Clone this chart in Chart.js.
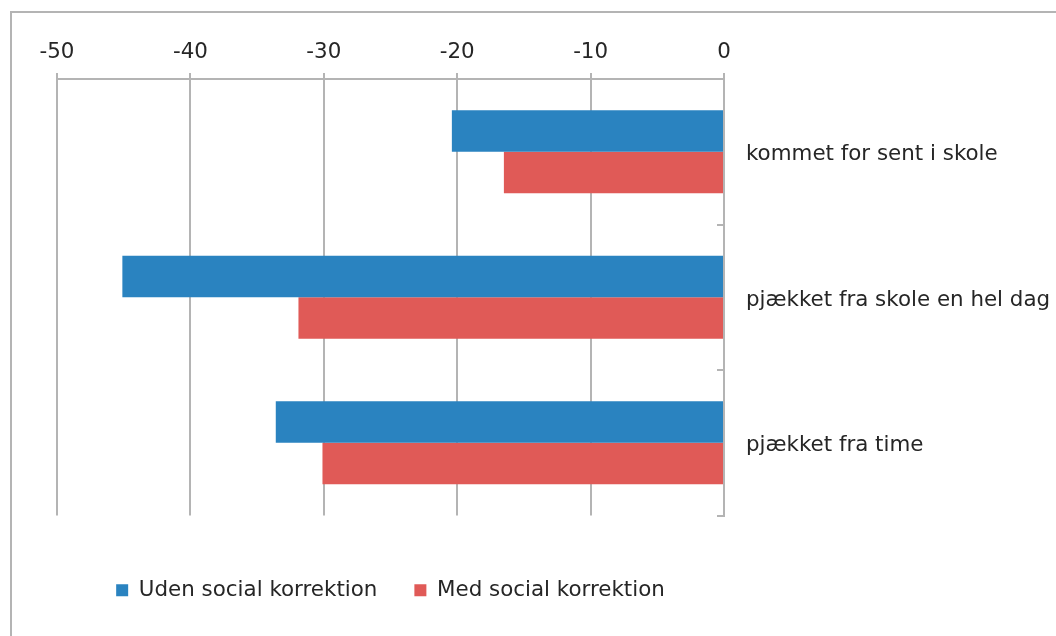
<!DOCTYPE html>
<html>
<head>
<meta charset="utf-8">
<script src="https://cdn.jsdelivr.net/npm/chart.js@4/dist/chart.umd.min.js"></script>
<style>
  html, body { margin: 0; padding: 0; background: #ffffff; }
  #wrap { position: relative; width: 1056px; height: 636px; overflow: hidden; }
  #frame { position: absolute; left: 10px; top: 11px; width: 1200px; height: 800px; border: 2px solid #b4b4b4; box-sizing: border-box; }
  #c { position: absolute; left: 0; top: 0; }
</style>
</head>
<body>
<div id="wrap">
  <div id="frame"></div>
  <canvas id="c" width="1056" height="636"></canvas>
</div>
<script>
const categories = ["kommet for sent i skole", "pjækket fra skole en hel dag", "pjækket fra time"];
const seriesNames = ["Uden social korrektion", "Med social korrektion"];
const udenValues = [-20.4, -45.1, -33.6];
const medValues = [-16.5, -31.9, -30.1];
const xMin = -50, xMax = 0, xStep = 10;

const FONT = "'DejaVu Sans', Verdana, sans-serif";
const GRID = "#b4b4b4";
const TEXT = "#262626";
const FS = 21.4;

Chart.defaults.font.family = FONT;
Chart.defaults.color = TEXT;

new Chart(document.getElementById("c"), {
  type: "bar",
  data: {
    labels: categories,
    datasets: [
      { label: seriesNames[0], data: udenValues, backgroundColor: "#2a83c0", borderWidth: 0,
        categoryPercentage: 0.57, barPercentage: 1.0 },
      { label: seriesNames[1], data: medValues, backgroundColor: "#e05a57", borderWidth: 0,
        categoryPercentage: 0.57, barPercentage: 1.0 }
    ]
  },
  options: {
    indexAxis: "y",
    responsive: false,
    animation: false,
    layout: { padding: { left: 57, right: 0, top: 0, bottom: 25 } },
    scales: {
      x: {
        position: "top",
        min: xMin, max: xMax,
        ticks: { stepSize: xStep, font: { size: FS }, color: TEXT, padding: 8 },
        grid: { color: GRID, lineWidth: 2, tickLength: 6, drawTicks: true },
        border: { color: GRID, width: 2 },
        afterFit: s => { s.height = 79; }
      },
      x2: {
        position: "bottom",
        display: true,
        ticks: { display: false },
        grid: { display: false, drawTicks: false },
        border: { display: false },
        afterFit: s => { s.height = 27; }
      },
      y: {
        position: "right",
        offset: true,
        ticks: { font: { size: FS }, color: TEXT, padding: 29, labelOffset: 3 },
        grid: { offset: true, drawOnChartArea: false, color: GRID, lineWidth: 2, tickLength: -7 },
        border: { color: GRID, width: 2 },
        afterFit: s => { s.width = 332; }
      }
    },
    plugins: {
      legend: {
        position: "bottom",
        fullSize: false,
        align: "center",
        labels: { boxWidth: 12, boxHeight: 12, padding: 37, font: { size: FS }, color: TEXT }
      },
      tooltip: { enabled: false }
    }
  }
});
</script>
</body>
</html>
